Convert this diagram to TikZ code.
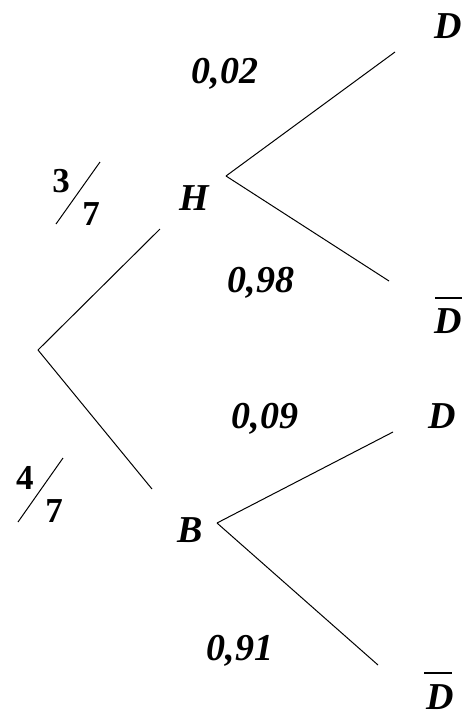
\documentclass[tikz,border=0pt]{standalone}
\usepackage{fontspec}
\setmainfont{Liberation Serif}
\begin{document}
\begin{tikzpicture}[x=1pt,y=-1pt,
  lbl/.style={font=\fontsize{38}{42}\selectfont\bfseries\itshape, inner sep=0pt, anchor=base},
  fracnum/.style={font=\fontsize{35}{38}\selectfont\bfseries, inner sep=0pt},
  branch/.style={line width=1pt, black},
  barline/.style={line width=1.6pt, black}]
\useasboundingbox (0,0) rectangle (462,718);
% fork points and branch ends
\coordinate (root) at (38,350);
\coordinate (hup) at (160,229);
\coordinate (blow) at (152,489);
\coordinate (hfork) at (226,176);
\coordinate (hD) at (395,52);
\coordinate (hDbar) at (389,281);
\coordinate (bfork) at (217,523);
\coordinate (bD) at (393,432);
\coordinate (bDbar) at (378,665);
% branches
\draw[branch] (root) -- (hup);
\draw[branch] (root) -- (blow);
\draw[branch] (hfork) -- (hD);
\draw[branch] (hfork) -- (hDbar);
\draw[branch] (bfork) -- (bD);
\draw[branch] (bfork) -- (bDbar);
% event labels
\node[lbl] (H) at (194,210) {H};
\node[lbl] (B) at (190,542) {B};
\node[lbl] (D1) at (448,38) {D};
\node[lbl] (D1bar) at (448,333) {D};
\node[lbl] (D2) at (442,428) {D};
\node[lbl] (D2bar) at (440,709) {D};
\draw[barline] ([xshift=-13pt,yshift=35pt]D1bar.base) -- ([xshift=14pt,yshift=35pt]D1bar.base);
\draw[barline] ([xshift=-16pt,yshift=36pt]D2bar.base) -- ([xshift=12pt,yshift=36pt]D2bar.base);
% probabilities
\node[lbl] (p1) at (225,83) {0,02};
\node[lbl] (p2) at (261,292) {0,98};
\node[lbl] (p3) at (265,428) {0,09};
\node[lbl] (p4) at (240,660) {0,91};
% fractions
\node[fracnum] (n1) at (61,181) {3};
\node[fracnum] (d1) at (91,214) {7};
\coordinate (s1a) at (56,224);
\coordinate (s1b) at (100,162);
\draw[branch] (s1a) -- (s1b);
\node[fracnum] (n2) at (25,478) {4};
\node[fracnum] (d2) at (54,511) {7};
\coordinate (s2a) at (18,522);
\coordinate (s2b) at (63,458);
\draw[branch] (s2a) -- (s2b);
\end{tikzpicture}
\end{document}
